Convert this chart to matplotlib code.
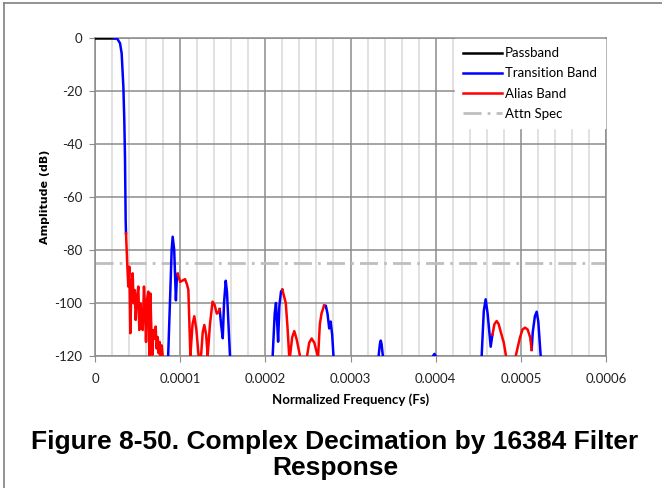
import numpy as np
import matplotlib
matplotlib.use("Agg")
import matplotlib.pyplot as plt
from matplotlib.lines import Line2D
from matplotlib.ticker import MultipleLocator

nan = np.nan

# passband (0 dB flat)
pass_x = [0.0, 2.2e-5]
pass_y = [0.0, 0.0]

# transition band lobes (NaN separates the pieces)
trans_x = [2.2e-5, 2.62e-5, 2.94e-5, 3.13e-5, 3.33e-5, 3.44e-5, 3.52e-5, 3.6e-5, 3.64e-5, nan,
           8.59e-5, 8.85e-5, 9.0e-5, 9.12e-5, 9.3e-5, 9.5e-5, 9.63e-5, 9.7e-5, nan,
           1.464e-4, 1.48e-4, 1.5e-4, 1.515e-4, 1.535e-4, 1.55e-4, 1.57e-4, 1.585e-4, nan,
           2.086e-4, 2.11e-4, 2.125e-4, 2.14e-4, 2.15e-4, 2.165e-4, 2.184e-4, 2.2e-4, nan,
           2.69e-4, 2.71e-4, 2.73e-4, 2.75e-4, 2.767e-4, 2.785e-4, 2.8e-4, nan,
           3.33e-4, 3.345e-4, 3.355e-4, 3.365e-4, 3.38e-4, nan,
           3.97e-4, 3.985e-4, 4.0e-4, nan,
           4.54e-4, 4.565e-4, 4.587e-4, 4.61e-4, 4.646e-4, 4.666e-4, nan,
           5.127e-4, 5.14e-4, 5.165e-4, 5.186e-4, 5.205e-4, 5.233e-4]
trans_y = [0.0, -0.3, -2.0, -5.8, -18.4, -31.0, -44.8, -68.7, -73.7, nan,
           -120, -95, -80, -75, -80, -99, -89, -89, nan,
           -102.3, -108, -113.3, -100, -91.6, -96, -110, -120, nan,
           -120, -104, -100, -108, -114.6, -101, -95.7, -95, nan,
           -101, -101, -104, -109.6, -107, -112, -120, nan,
           -120, -115.5, -114.2, -115.5, -120, nan,
           -120, -119.2, -120, nan,
           -120, -103, -98.6, -104, -116.5, -112, nan,
           -117.7, -111, -105, -103.3, -107, -120]

# alias band lobes
alias_x = [3.64e-5, 3.8e-5, 3.91e-5, 4.03e-5, 4.15e-5, 4.27e-5, 4.42e-5, 4.54e-5, 4.66e-5, 4.78e-5,
           4.93e-5, 5.09e-5, 5.2e-5, 5.32e-5, 5.48e-5, 5.6e-5, 5.75e-5, 5.87e-5, 5.99e-5, 6.1e-5,
           6.26e-5, 6.38e-5, 6.5e-5, 6.61e-5, 6.73e-5, 6.85e-5, 7.0e-5, 7.12e-5, 7.24e-5, 7.36e-5,
           7.48e-5, 7.6e-5, 7.71e-5, 7.83e-5, 7.95e-5, nan,
           9.7e-5, 1.0e-4, 1.03e-4, 1.057e-4, 1.08e-4, 1.096e-4, 1.12e-4, nan,
           1.12e-4, 1.145e-4, 1.166e-4, 1.19e-4, 1.217e-4, nan,
           1.245e-4, 1.265e-4, 1.284e-4, 1.305e-4, 1.323e-4, nan,
           1.323e-4, 1.35e-4, 1.38e-4, 1.405e-4, 1.43e-4, 1.45e-4, 1.464e-4, nan,
           2.2e-4, 2.24e-4, 2.26e-4, 2.28e-4, nan,
           2.29e-4, 2.315e-4, 2.34e-4, 2.37e-4, 2.407e-4, nan,
           2.49e-4, 2.515e-4, 2.544e-4, 2.575e-4, 2.615e-4, nan,
           2.62e-4, 2.64e-4, 2.66e-4, 2.69e-4, nan,
           4.666e-4, 4.69e-4, 4.716e-4, 4.74e-4, 4.763e-4, 4.8e-4, 4.826e-4, nan,
           4.94e-4, 4.99e-4, 5.02e-4, 5.049e-4, 5.08e-4, 5.11e-4, 5.127e-4]
alias_y = [-73.7, -86.3, -93.8, -86.3, -111.4, -93.8, -88.8, -100.1, -95.1, -106.4,
           -97.6, -93.8, -110.2, -100.1, -105.2, -110.2, -93.8, -101.4, -114.7, -98.9,
           -95.7, -120, -96.4, -108.9, -119.6, -110.2, -113.5, -108.9, -117.2, -112.8,
           -119, -114.7, -120, -116, -120, nan,
           -89, -92, -91.5, -91, -93, -95, -120, nan,
           -120, -108, -105, -110, -120, nan,
           -120, -111, -108.3, -112, -120, nan,
           -120, -108, -99.5, -100.8, -104, -103.6, -102.3, nan,
           -95, -100, -109, -120, nan,
           -120, -113, -110.6, -114, -120, nan,
           -120, -115, -113.4, -115, -120, nan,
           -120, -108, -103.9, -101, nan,
           -112, -108, -106.8, -108, -110.8, -115, -120, nan,
           -120, -113, -110, -109.3, -110, -113, -117.7]

# attenuation spec
spec_x = [0.0, 0.0006]
spec_y = [-85.0, -85.0]

plt.rcParams["font.family"] = ["Lato", "DejaVu Sans"]
plt.rcParams["axes.unicode_minus"] = False

fig = plt.figure(figsize=(6.62, 4.88), dpi=100)
ax = fig.add_axes([95 / 662, 132 / 488, 511 / 662, 318 / 488])

ax.plot(pass_x, pass_y, color="black", lw=1.8, label="Passband", zorder=3)
ax.plot(trans_x, trans_y, color="#0000ff", lw=1.8, label="Transition Band", zorder=3)
ax.plot(alias_x, alias_y, color="#ff0000", lw=1.8, label="Alias Band", zorder=3)
ax.plot(spec_x, spec_y, color="#bfbfbf", lw=2, dashes=(6.5, 2.2, 1.0, 2.2),
        label="Attn Spec", zorder=2)

ax.set_xlim(0, 0.0006)
ax.set_ylim(-120, 0)
ax.xaxis.set_minor_locator(MultipleLocator(0.00002))
ax.yaxis.set_major_locator(MultipleLocator(20))
ax.set_xticks([0, 0.0001, 0.0002, 0.0003, 0.0004, 0.0005, 0.0006])
ax.set_xticklabels(["0", "0.0001", "0.0002", "0.0003", "0.0004", "0.0005", "0.0006"])

ax.grid(which="major", color="#8c8c8c", lw=1.1)
ax.grid(which="minor", axis="x", color="#d9d9d9", lw=1.1)
ax.set_axisbelow(True)
for s in ax.spines.values():
    s.set_color("#8c8c8c")
    s.set_linewidth(1.1)
ax.tick_params(which="major", length=4, color="#8c8c8c", labelsize=9.5, labelcolor="#222222")
ax.tick_params(axis="x", pad=8)
ax.tick_params(axis="y", pad=5)
ax.tick_params(which="minor", length=0)

ax.set_xlabel("Normalized Frequency (Fs)", fontsize=9.5, fontweight="bold", labelpad=6)
ax.set_ylabel("Amplitude (dB)", fontsize=8, fontweight="bold", labelpad=3,
              family="DejaVu Sans")

leg = ax.legend(loc="upper right", bbox_to_anchor=(1.0, 1.0), fontsize=9.5, frameon=True,
                handlelength=2.9, handletextpad=0.25, borderaxespad=0.3, labelspacing=0.62)
leg.get_frame().set_edgecolor("white")
leg.get_frame().set_facecolor("white")
leg.get_frame().set_alpha(1)
leg.get_frame().set_boxstyle("square", pad=0.2)

fig.text(0.506, 0.067, "Figure 8-50. Complex Decimation by 16384 Filter\nResponse",
         ha="center", va="center", fontsize=19, fontweight="bold",
         family="Liberation Sans", linespacing=1.1)

# page frame
fig.add_artist(Line2D([4 / 662, 4 / 662], [0, 1 - 3 / 488], color="#808080", lw=1.2,
                      transform=fig.transFigure))
fig.add_artist(Line2D([4 / 662, 1], [1 - 3 / 488, 1 - 3 / 488], color="#808080", lw=1.2,
                      transform=fig.transFigure))

fig.savefig("out.png", dpi=100)
